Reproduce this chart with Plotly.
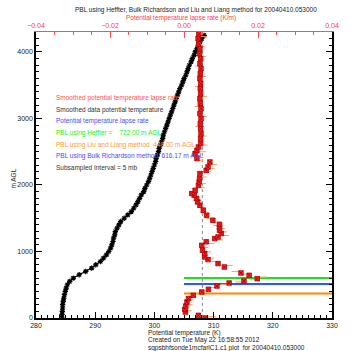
import plotly.graph_objects as go

# Smoothed data potential temperature (K) vs height (m AGL)
theta_h = [0, 50, 100, 150, 200, 250, 300, 350, 400, 450, 500, 550, 600, 650, 700, 750, 800, 850, 900, 950,
           1000, 1050, 1100, 1150, 1200, 1250, 1300, 1350, 1400, 1450, 1500, 1550, 1600, 1650, 1700, 1750, 1800,
           1850, 1900, 1950, 2000, 2050, 2100, 2150, 2200, 2250, 2300, 2350, 2400, 2450, 2500, 2550, 2600, 2650,
           2700, 2750, 2800, 2850, 2900, 2950, 3000, 3050, 3100, 3150, 3200, 3250, 3300, 3350, 3400, 3450, 3500,
           3550, 3600, 3650, 3700, 3750, 3800, 3850, 3900, 3950, 4000, 4050, 4100, 4150, 4200, 4250]
theta = [284.4, 284.4, 284.45, 284.5, 284.5, 284.6, 284.7, 284.8, 284.95, 285.1, 285.3, 285.7, 286.3, 287.3,
         288.4, 289.4, 290.1, 290.9, 291.4, 291.9, 292.3, 292.6, 292.8, 293.0, 293.1, 293.3, 293.4, 293.7, 294.0,
         294.3, 294.9, 295.5, 296.1, 296.5, 296.9, 297.2, 297.5, 297.8, 298.2, 298.4, 298.7, 299.0, 299.2, 299.4,
         299.6, 299.8, 300.0, 300.2, 300.3, 300.5, 300.7, 300.8, 301.0, 301.2, 301.4, 301.5, 301.7, 301.9, 302.1,
         302.3, 302.5, 302.7, 302.9, 303.1, 303.3, 303.5, 303.7, 303.9, 304.1, 304.3, 304.6, 304.8, 305.0, 305.3,
         305.5, 305.7, 305.9, 306.2, 306.4, 306.7, 306.9, 307.2, 307.4, 307.7, 308.0, 308.4]

# Smoothed potential temperature lapse rate (K/m)
lapse_h = [0, 40, 90, 130, 180, 241, 292, 341, 391, 431, 481, 526, 556, 592, 642, 677, 767, 818, 878, 917, 968,
           1020, 1093, 1145, 1194, 1218, 1270, 1320, 1368, 1409, 1469, 1544, 1620, 1695, 1745, 1795, 1845, 1870,
           1920, 1995, 2046, 2096, 2171, 2221, 2271, 2346, 2397, 2472, 2522, 2571, 2622, 2698, 2773, 2848, 2923,
           2998, 3073, 3148, 3223, 3298, 3373, 3448, 3523, 3598, 3673, 3748, 3823, 3898, 3973, 4048, 4123, 4198, 4273]
lapse = [0.0057, 0.0039, 0.0004, 0.0002, 0.0005, 0.0008, 0.0012, 0.0025, 0.0048, 0.0066, 0.0089, 0.0122, 0.0162,
         0.0198, 0.0176, 0.0154, 0.0109, 0.0092, 0.0065, 0.0056, 0.0056, 0.0050, 0.0048, 0.0060, 0.0083, 0.0092,
         0.0101, 0.0096, 0.0096, 0.0096, 0.0078, 0.0061, 0.0052, 0.0043, 0.0037, 0.0034, 0.0028, 0.0021, 0.0030,
         0.0039, 0.0041, 0.0042, 0.0043, 0.0060, 0.0065, 0.0070, 0.0035, 0.0030, 0.0035, 0.0039, 0.0045, 0.0045,
         0.0046, 0.0045, 0.0044, 0.0046, 0.0043, 0.0046, 0.0044, 0.0043, 0.0045, 0.0044, 0.0045, 0.0043, 0.0044,
         0.0046, 0.0043, 0.0045, 0.0042, 0.0043, 0.0040, 0.0038, 0.0040]

# Raw potential temperature lapse rate (K/m)
raw_h = [20, 110, 200, 270, 320, 370, 410, 460, 505, 540, 575, 615, 660, 700, 790, 850, 900, 995, 1060, 1120,
         1175, 1240, 1295, 1345, 1390, 1440, 1500, 1580, 1660, 1720, 1770, 1820, 1895, 1960, 2020, 2120, 2200,
         2250, 2310, 2370, 2440, 2500, 2600, 2735, 2880, 3030, 3180, 3330, 3480, 3630, 3790, 3930, 4080, 4230]
raw = [0.0075, 0.0010, 0.0012, 0.0015, 0.0022, 0.0040, 0.0058, 0.0080, 0.0110, 0.0150, 0.0190, 0.0215, 0.0160,
       0.0140, 0.0120, 0.0085, 0.0070, 0.0062, 0.0055, 0.0070, 0.0095, 0.0110, 0.0105, 0.0100, 0.0090, 0.0085,
       0.0070, 0.0058, 0.0048, 0.0040, 0.0035, 0.0030, 0.0025, 0.0045, 0.0048, 0.0050, 0.0062, 0.0072, 0.0078,
       0.0040, 0.0033, 0.0048, 0.0052, 0.0050, 0.0042, 0.0050, 0.0040, 0.0050, 0.0041, 0.0049, 0.0040, 0.0048,
       0.0045, 0.0052]

pbl_heffter = 600
pbl_bulk_ri = 511
pbl_liu_liang = 367
pbl_line_x = [305, 330]
ref_theta = 308.1

FONT = "Liberation Sans"
fig = go.Figure()

fig.add_trace(go.Scatter(x=[ref_theta, ref_theta], y=[0, 4300], mode="lines",
                         line=dict(color="#888888", width=1, dash="dot"), showlegend=False))
for h, c in [(pbl_heffter, "#22dd22"), (pbl_bulk_ri, "#3355ff"), (pbl_liu_liang, "#ff8800")]:
    fig.add_trace(go.Scatter(x=pbl_line_x, y=[h, h], mode="lines", line=dict(color=c, width=2),
                             showlegend=False))

fig.add_trace(go.Scatter(x=raw, y=raw_h, xaxis="x2", mode="markers",
                         marker=dict(symbol="line-ew-open", size=6, line=dict(color="#8080ff", width=1)),
                         showlegend=False))
fig.add_trace(go.Scatter(x=lapse, y=lapse_h, xaxis="x2", mode="markers",
                         marker=dict(symbol="square-x", size=4.5, color="#ff2a2a",
                                     line=dict(color="#b00000", width=0.8)),
                         showlegend=False))
fig.add_trace(go.Scatter(x=theta, y=theta_h, mode="lines+markers",
                         line=dict(color="black", width=1.2),
                         marker=dict(symbol="asterisk-open", size=4.5, line=dict(color="black", width=1.2)),
                         showlegend=False))

def px(x):
    return (x - 36) / 302

def py(y):
    return (317.7 - y) / 285.7

legend_lines = [
    ("Smoothed potential temperature lapse rate", "#ff5050"),
    ("Smoothed data potential temperature", "#333333"),
    ("Potential temperature lapse rate", "#4a4aff"),
    ("PBL using Heffter =    722.00 m AGL", "#22ee22"),
    ("PBL using Liu and Liang method  440.00 m AGL", "#ff9a30"),
    ("PBL using Bulk Richardson method  616.17 m AGL", "#4a4aff"),
    ("Subsampled Interval = 5 mb", "#333333"),
]
ann = []
for i, (t, c) in enumerate(legend_lines):
    ann.append(dict(text=t, x=px(54), y=py(98 + i * 11.6), xanchor="left", yanchor="middle", color=c))

ann += [
    dict(text="PBL using Heffter, Bulk Richardson and Liu and Liang method for 20040410.053000",
         x=px(199), y=py(10.5), xanchor="center", yanchor="middle", color=None),
    dict(text="Potential temperature lapse rate (K/m)", x=px(184), y=py(18.5), xanchor="center",
         yanchor="middle", color="#ff4040"),
    dict(text="Potential temperature (K)", x=px(148), y=py(332.5), xanchor="left", yanchor="middle", color=None),
    dict(text="Created on Tue May 22 16:58:55 2012", x=px(148), y=py(340), xanchor="left", yanchor="middle",
         color=None),
    dict(text="sgpsbhfsonde1mcfarlC1.c1 plot  for 20040410.053000", x=px(148), y=py(347.3), xanchor="left",
         yanchor="middle", color=None),
    dict(text="m AGL", x=px(13), y=py(178), xanchor="center", yanchor="middle", color=None, textangle=-90),
]
for a in ann:
    c = a.pop("color")
    a.update(xref="paper", yref="paper", showarrow=False,
             font=dict(family=FONT, size=6.5, color=c if c else "#222222"))

axis_font = dict(family=FONT, size=7, color="#222222")
fig.update_layout(
    width=351, height=351, margin=dict(l=36, r=13, t=32, b=33),
    paper_bgcolor="white", plot_bgcolor="white", showlegend=False,
    annotations=ann,
    xaxis=dict(range=[280, 330], tickvals=[280, 290, 300, 310, 320, 330], ticks="inside", ticklen=6,
               tickwidth=1, tickcolor="black", showline=True, linecolor="black", linewidth=1.5,
               showgrid=False, zeroline=False, tickfont=axis_font, mirror=False,
               minor=dict(dtick=1, ticks="inside", ticklen=3, tickcolor="black", showgrid=False)),
    xaxis2=dict(range=[-0.04, 0.04], overlaying="x", side="top", anchor="y",
                tickvals=[-0.04, -0.02, 0.0, 0.02, 0.04], tickformat=".2f", ticks="inside", ticklen=6,
                tickcolor="#ff5050", showline=True, linecolor="#ff5050", linewidth=1, showgrid=False,
                zeroline=False, tickfont=dict(family=FONT, size=7, color="#ff4040"),
                minor=dict(dtick=0.005, ticks="inside", ticklen=3, tickcolor="#ff5050", showgrid=False)),
    yaxis=dict(range=[0, 4300], tickvals=[0, 1000, 2000, 3000, 4000], ticks="inside", ticklen=6,
               tickcolor="black", showline=True, linecolor="black", linewidth=1.5, mirror="ticks",
               showgrid=False, zeroline=False, tickfont=axis_font,
               minor=dict(dtick=100, ticks="inside", ticklen=3, tickcolor="black", showgrid=False)),
)
fig.write_html("out.html")
